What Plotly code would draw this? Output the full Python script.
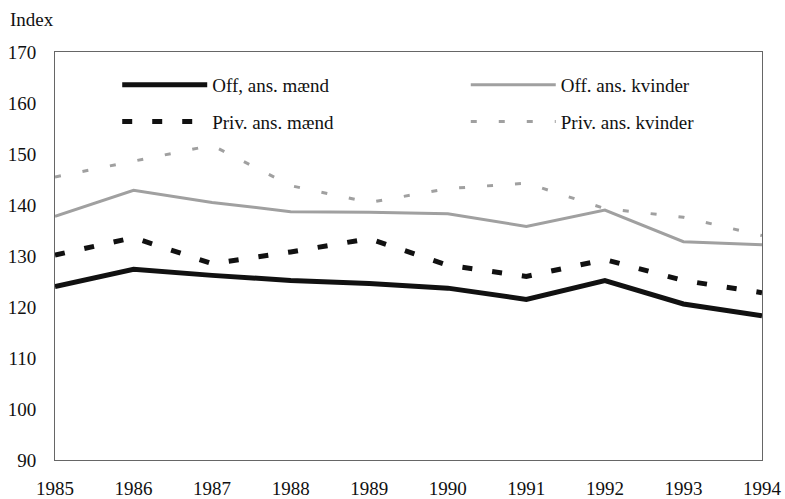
import plotly.graph_objects as go

# Index values
years = [1985, 1986, 1987, 1988, 1989, 1990, 1991, 1992, 1993, 1994]

off_maend   = [124.0, 127.4, 126.2, 125.2, 124.6, 123.7, 121.5, 125.2, 120.6, 118.3]
priv_maend  = [130.2, 133.6, 128.5, 130.8, 133.4, 128.2, 126.0, 129.3, 125.2, 122.8]
off_kvinder = [137.8, 142.9, 140.5, 138.7, 138.6, 138.3, 135.8, 139.0, 132.8, 132.2]
priv_kvind  = [145.5, 148.6, 151.7, 143.8, 140.5, 143.2, 144.3, 139.3, 137.6, 134.0]

y_ticks = [90, 100, 110, 120, 130, 140, 150, 160, 170]

FONT = "Liberation Serif, Times New Roman, serif"

fig = go.Figure()

fig.add_trace(go.Scatter(
    x=years, y=off_maend, name="Off, ans. mænd", mode="lines",
    line=dict(color="#111111", width=5), legend="legend", legendgroup="a",
))
fig.add_trace(go.Scatter(
    x=years, y=priv_maend, name="Priv. ans. mænd", mode="lines",
    line=dict(color="#111111", width=5, dash="10px,20px"), legend="legend", legendgroup="b",
))
fig.add_trace(go.Scatter(
    x=years, y=off_kvinder, name="Off. ans. kvinder", mode="lines",
    line=dict(color="#a0a0a0", width=3), legend="legend2", legendgroup="c",
))
fig.add_trace(go.Scatter(
    x=years, y=priv_kvind, name="Priv. ans. kvinder", mode="lines",
    line=dict(color="#a0a0a0", width=3, dash="6px,22px"), legend="legend2", legendgroup="d",
))

legend_common = dict(
    bgcolor="rgba(0,0,0,0)",
    font=dict(family=FONT, size=19, color="#111111"),
    itemwidth=85,
    tracegroupgap=9,
    xanchor="left", yanchor="top",
)

fig.update_layout(
    width=785, height=499,
    margin=dict(l=55, r=23, t=52, b=39),
    paper_bgcolor="white",
    plot_bgcolor="white",
    font=dict(family=FONT, size=19, color="#111111"),
    showlegend=True,
    legend=dict(x=0.088, y=0.966, **legend_common),
    legend2=dict(x=0.581, y=0.966, **legend_common),
    xaxis=dict(
        range=[1985, 1994], tickvals=years, ticks="",
        showgrid=False, zeroline=False, automargin=False,
        showline=True, linecolor="#666666", linewidth=1, mirror=True,
        tickfont=dict(family=FONT, size=19),
        ticklabelstandoff=11,
    ),
    yaxis=dict(
        range=[90, 170], tickvals=y_ticks, ticks="",
        showgrid=False, zeroline=False, automargin=False,
        showline=True, linecolor="#666666", linewidth=1, mirror=True,
        tickfont=dict(family=FONT, size=19),
        ticklabelstandoff=14,
    ),
    annotations=[dict(
        text="Index", xref="paper", yref="paper", x=-0.066, y=1.0,
        xanchor="left", yanchor="bottom", yshift=20, showarrow=False,
        font=dict(family=FONT, size=19),
    )],
)

# drop the default page margin so the figure sits at the window's corner
fig.write_html(
    "out.html",
    config={"displayModeBar": False},
    post_script="document.body.style.margin='0';document.body.style.overflow='hidden';",
)
